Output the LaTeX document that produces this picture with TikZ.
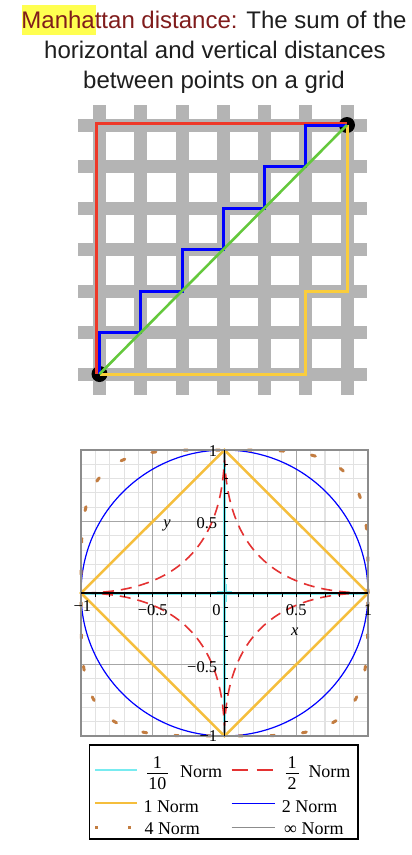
\documentclass[tikz,border=0pt]{standalone}
\usepackage{fontspec}
\setmainfont{Liberation Serif}
\newfontfamily\titlefont{Liberation Sans}
\definecolor{ink}{RGB}{30,30,30}
\definecolor{mred}{RGB}{128,28,28}
\definecolor{hl}{RGB}{255,255,80}
\definecolor{gbar}{RGB}{180,180,180}
\definecolor{pred}{RGB}{238,56,40}
\definecolor{pblue}{RGB}{0,0,255}
\definecolor{pyel}{RGB}{250,205,60}
\definecolor{pgreen}{RGB}{100,200,60}
\definecolor{nyel}{RGB}{245,190,60}
\definecolor{nred}{RGB}{228,50,50}
\definecolor{ncyan}{RGB}{120,235,240}
\definecolor{nbrown}{RGB}{195,125,65}
\definecolor{ngray}{RGB}{140,140,140}
\definecolor{mgrid}{RGB}{226,226,226}
\begin{document}
\begin{tikzpicture}[x=1pt,y=-1pt,
  ttl/.style={font=\titlefont\fontsize{24}{28}\selectfont, inner sep=0, text=ink},
  bar/.style={fill=gbar},
  dotnode/.style={circle, fill=black, minimum size=16pt, inner sep=0},
  redp/.style={pred, line width=3pt},
  bluep/.style={pblue, line width=3pt},
  yelp/.style={pyel, line width=3pt},
  greenp/.style={pgreen, line width=2.6pt},
  minorg/.style={mgrid, line width=1.1pt},
  majorg/.style={gray!70, line width=1.1pt},
  axisl/.style={black, line width=1.2pt},
  tickl/.style={black, line width=0.8pt},
  ticklab/.style={font=\fontsize{16.5}{18}\selectfont, inner sep=0},
  cyann/.style={ncyan, line width=3pt},
  halfn/.style={nred, line width=1.6pt, dash pattern=on 11pt off 7pt},
  onen/.style={nyel, line width=2.5pt},
  twon/.style={pblue, line width=1.2pt},
  fourn/.style={nbrown, line width=3pt, dash pattern=on 4pt off 28pt, line cap=round},
  infn/.style={ngray, line width=2pt},
  legtxt/.style={font=\fontsize{18}{21}\selectfont, inner sep=0, anchor=base west},
  fractxt/.style={font=\fontsize{18}{21}\selectfont, inner sep=0, anchor=base}
]
\useasboundingbox (0,0) rectangle (412,855);
\fill[white] (0,0) rectangle (412,855);

% ---------- title ----------
\fill[hl] (22,5) rectangle (96,35);
\node[ttl, anchor=base] (t1) at (214,28) {\textcolor{mred}{Manhattan distance:} The sum of the};
\node[ttl, anchor=base] (t2) at (215,58) {horizontal and vertical distances};
\node[ttl, anchor=base] (t3) at (214,88) {between points on a grid};

% ---------- street grid ----------
\foreach \i in {0,...,6} {
  \fill[bar] ({99.5+41.25*\i-6.5},105) rectangle ({99.5+41.25*\i+6.5},395);
  \fill[bar] (78,{374-41.5*\i-6.5}) rectangle (367,{374-41.5*\i+6.5});
}
\begin{scope}[shift={(99.5,374)}, x=41.25pt, y=41.5pt]
  \node[dotnode] (P) at (0,0) {};
  \node[dotnode] (Q) at (6,6) {};
  \draw[redp] ([xshift=-3.5pt]P.center) |- ([yshift=2pt]Q.center);
  \draw[yelp] (P.center) -- (5,0) -- (5,2) -- (6,2) -- (Q.center);
  \draw[bluep] (P.center) \foreach \k in {1,...,6} { -- (\k-1,\k) -- (\k,\k) };
  \draw[greenp] (P.center) -- (Q.center);
\end{scope}

% ---------- norm plot ----------
\begin{scope}[shift={(224.5,593)}, x=143.5pt, y=143pt]
  \foreach \k in {-9,...,9} {
    \draw[minorg] (\k/10,-1) -- (\k/10,1);
    \draw[minorg] (-1,\k/10) -- (1,\k/10);
  }
  \foreach \v in {-0.5,0.5} {
    \draw[majorg] (\v,-1) -- (\v,1);
    \draw[majorg] (-1,\v) -- (1,\v);
  }
  % 1/10 norm
  \draw[cyann] (-1,0) -- (1,0);
  \draw[cyann] (0,-1) -- (0,1);
  \draw[ncyan, line width=4pt] (-0.05,0) -- (0.05,0);
  \draw[ncyan, line width=4pt] (0,-0.06) -- (0,0.06);
  % 1/2 norm
  \draw[halfn] plot[domain=0:360, samples=361, variable=\t]
    ({cos(\t)*cos(\t)*cos(\t)*abs(cos(\t))}, {sin(\t)*sin(\t)*sin(\t)*abs(sin(\t))});
  % 1 norm
  \draw[onen] (1,0) -- (0,1) -- (-1,0) -- (0,-1) -- cycle;
  % 2 norm
  \draw[twon] (0,0) circle[radius=1];
  % 4 norm
  \draw[fourn] plot[domain=0:360, samples=241, variable=\t]
    ({((cos(\t)<0) ? -1 : 1)*sqrt(abs(cos(\t)))}, {((sin(\t)<0) ? -1 : 1)*sqrt(abs(sin(\t)))});
  % infinity norm (frame)
  \draw[infn] (-1,-1) rectangle (1,1);
  % axes
  \draw[axisl] (-1,0) -- (1,0);
  \draw[axisl] (0,-1) -- (0,1);
  \foreach \k in {-9,...,-1,1,2,...,9} {
    \draw[tickl] (\k/10,0) -- ++(0pt,-3.5pt);
    \draw[tickl] (0,\k/10) -- ++(3.5pt,0pt);
  }
  \node[ticklab] (xl1) at (-0.99,-0.09) {−1};
  \node[ticklab] (xl2) at (-0.5,-0.12) {−0.5};
  \node[ticklab] (xl3) at (-0.055,-0.12) {0};
  \node[ticklab] (xl4) at (0.5,-0.12) {0.5};
  \node[ticklab] (xl5) at (1.0,-0.12) {1};
  \node[ticklab, anchor=east] (yl1) at (-0.05,0.99) {1};
  \node[ticklab, anchor=east] (yl2) at (-0.05,0.49) {0.5};
  \node[ticklab, anchor=east] (yl3) at (-0.05,-0.515) {−0.5};
  \node[ticklab, anchor=east] (yl4) at (-0.05,-1.0) {−1};
  \node[ticklab] (xlab) at (0.49,-0.27) {\textit{x}};
  \node[ticklab] (ylab) at (-0.40,0.475) {\textit{y}};
\end{scope}

% ---------- legend ----------
\node[draw=black, line width=1.2pt, minimum width=268.7pt, minimum height=94pt, inner sep=0] (leg) at (223.65,792) {};
% row 1
\draw[ncyan, line width=1.4pt] (95,770) -- (137.3,770);
\node[fractxt] (f1n) at (157.3,768) {1};
\node[fractxt] (f1d) at (157.3,789) {10};
\draw[black, line width=0.9pt] (147,773.5) -- (168,773.5);
\node[legtxt] (l1) at (180,777) {Norm};
\draw[nred, line width=1.4pt, dash pattern=on 16pt off 9pt] (231.7,770) -- (275,770);
\node[fractxt] (f2n) at (292,768) {1};
\node[fractxt] (f2d) at (292,789) {2};
\draw[black, line width=0.9pt] (285.5,773.5) -- (298.5,773.5);
\node[legtxt] (l2) at (308.3,777) {Norm};
% row 2
\draw[nyel, line width=2.2pt] (95,803.3) -- (137.3,803.3);
\node[legtxt] (l3) at (143.3,812) {1 Norm};
\draw[pblue, line width=1.5pt] (231.7,803.3) -- (275,803.3);
\node[legtxt] (l4) at (281.7,812) {2 Norm};
% row 3
\fill[nbrown] (94.5,825.8) rectangle (97.5,828.8);
\fill[nbrown] (127.8,825.8) rectangle (130.8,828.8);
\node[legtxt] (l5) at (144.3,834) {4 Norm};
\draw[ngray, line width=1.4pt] (231.7,827.3) -- (275,827.3);
\node[legtxt] (l6) at (284,834) {∞ Norm};
\end{tikzpicture}
\end{document}
